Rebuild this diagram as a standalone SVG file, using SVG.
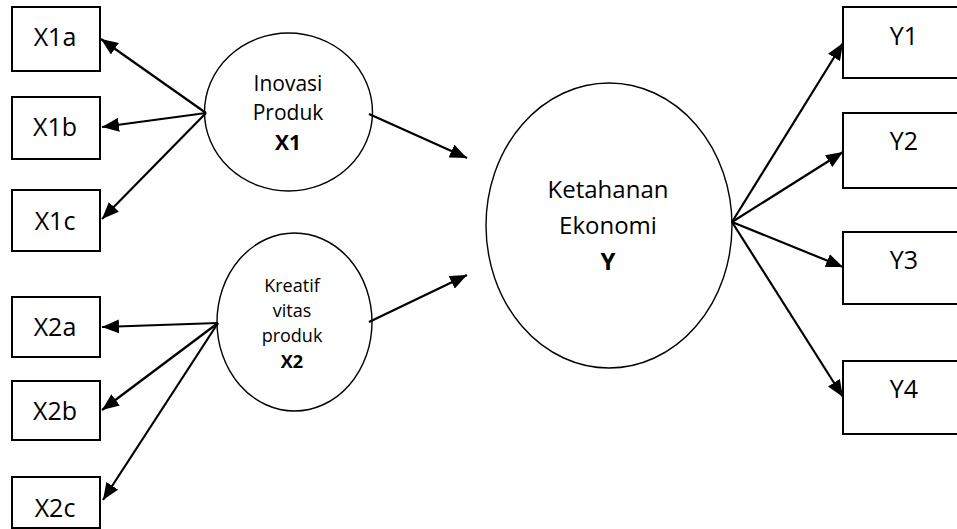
<svg xmlns="http://www.w3.org/2000/svg" width="957" height="529" viewBox="0 0 957 529">
<style>
.box{fill:#fff;stroke:#000;stroke-width:2}
.lat{fill:#fff;stroke:#000;stroke-width:1.4}
.lbl{font-family:"Open Sans","Liberation Sans",sans-serif;font-size:25px;fill:#000;text-anchor:middle}
.t1{font-family:"Open Sans","Liberation Sans",sans-serif;font-size:21px;fill:#000;text-anchor:middle}
.t2{font-family:"Open Sans","Liberation Sans",sans-serif;font-size:18px;fill:#000;text-anchor:middle}
.t3{font-family:"Open Sans","Liberation Sans",sans-serif;font-size:24px;fill:#000;text-anchor:middle}
.b{font-weight:bold}
.con line{stroke:#000;stroke-width:2.2;marker-end:url(#ah)}
</style>
<defs>
<marker id="ah" markerUnits="userSpaceOnUse" markerWidth="18" markerHeight="14" refX="17" refY="7" orient="auto" viewBox="0 0 18 14">
<path d="M0,0 L17,7 L0,14 z" fill="#000"/>
</marker>
</defs>
<rect width="957" height="529" fill="#fff"/>
<g id="X1a"><rect class="box" x="12" y="7" width="88" height="64"/><text class="lbl" x="55" y="46">X1a</text></g>
<g id="X1b"><rect class="box" x="12" y="97" width="88" height="62"/><text class="lbl" x="55" y="136">X1b</text></g>
<g id="X1c"><rect class="box" x="12" y="190" width="88" height="61"/><text class="lbl" x="55" y="230">X1c</text></g>
<g id="X2a"><rect class="box" x="12" y="297" width="88" height="60"/><text class="lbl" x="55" y="336">X2a</text></g>
<g id="X2b"><rect class="box" x="12" y="381" width="88" height="59"/><text class="lbl" x="55" y="420">X2b</text></g>
<g id="X2c"><rect class="box" x="12" y="477" width="88" height="51"/><text class="lbl" x="55" y="517">X2c</text></g>
<g id="X1"><ellipse class="lat" cx="288.5" cy="112" rx="84" ry="79"/><text class="t1" x="288" y="91">Inovasi</text><text class="t1" x="288" y="120">Produk</text><text class="t1 b" x="288" y="150">X1</text></g>
<g id="X2"><ellipse class="lat" cx="294.5" cy="322" rx="77.5" ry="89"/><text class="t2" x="292" y="292">Kreatif</text><text class="t2" x="292" y="317">vitas</text><text class="t2" x="292" y="342">produk</text><text class="t2 b" x="292" y="368">X2</text></g>
<g id="Y"><ellipse class="lat" cx="609" cy="225.5" rx="123" ry="142.5"/><text class="t3" x="608" y="198">Ketahanan</text><text class="t3" x="608" y="234">Ekonomi</text><text class="t3 b" x="608" y="270">Y</text></g>
<g id="Y1"><rect class="box" x="843" y="7" width="130" height="71"/><text class="lbl" x="904" y="45">Y1</text></g>
<g id="Y2"><rect class="box" x="843" y="113" width="130" height="75"/><text class="lbl" x="904" y="150">Y2</text></g>
<g id="Y3"><rect class="box" x="843" y="232" width="130" height="72"/><text class="lbl" x="904" y="269">Y3</text></g>
<g id="Y4"><rect class="box" x="843" y="361" width="130" height="73"/><text class="lbl" x="904" y="398">Y4</text></g>
<g class="con" id="connectors">
<line x1="206" y1="113" x2="101" y2="39"/>
<line x1="206" y1="113" x2="102" y2="127"/>
<line x1="206" y1="113" x2="102" y2="219"/>
<line x1="218" y1="323" x2="102" y2="327"/>
<line x1="218" y1="323" x2="102" y2="410"/>
<line x1="218" y1="323" x2="103" y2="500"/>
<line x1="369" y1="114" x2="467" y2="158"/>
<line x1="369" y1="322" x2="467" y2="275"/>
<line x1="732" y1="222" x2="843" y2="43"/>
<line x1="732" y1="222" x2="843" y2="152"/>
<line x1="732" y1="222" x2="843" y2="267"/>
<line x1="732" y1="222" x2="843" y2="397"/>
</g>
</svg>
